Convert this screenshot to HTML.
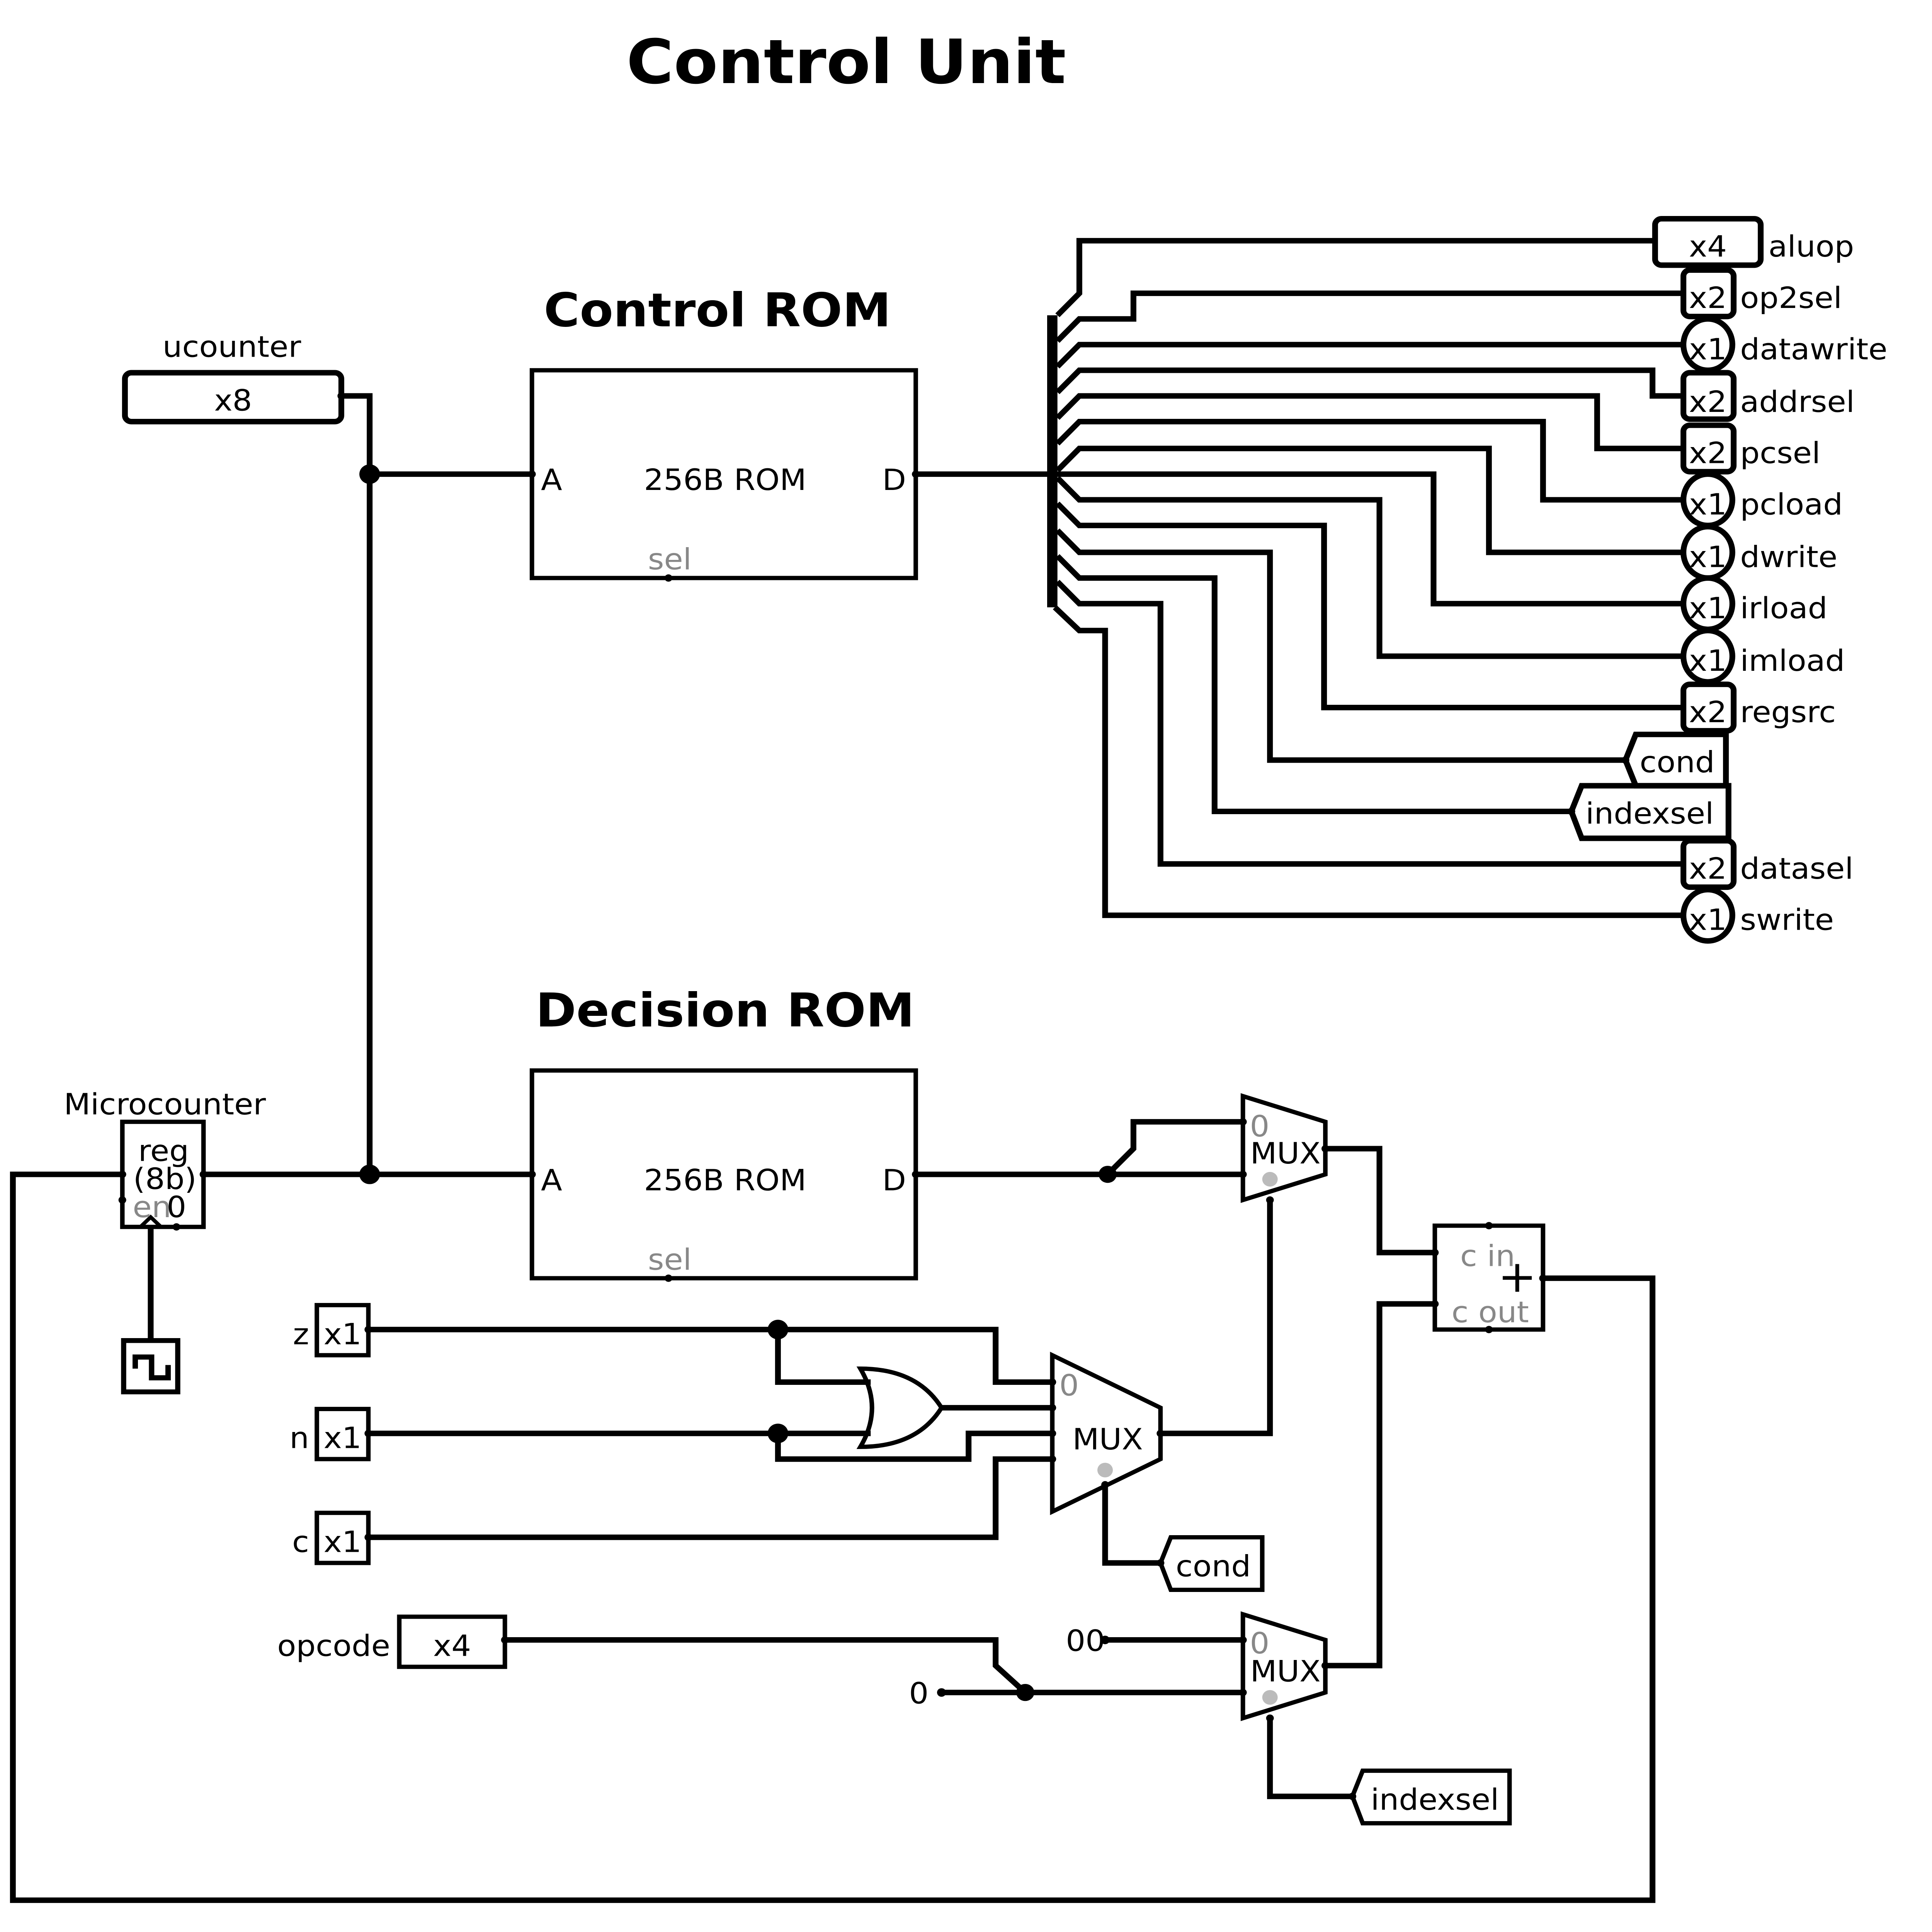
<!DOCTYPE html>
<html><head><meta charset="utf-8"><style>html,body{margin:0;padding:0;background:#fff;width:100%;height:100%;overflow:hidden}svg{display:block;position:fixed;left:0;top:0;width:100vw;height:100vh}</style></head><body>
<svg viewBox="0 0 1500 1581" preserveAspectRatio="none" xmlns="http://www.w3.org/2000/svg" font-family="DejaVu Sans, Liberation Sans, sans-serif">
<rect width="1500" height="1581" fill="#fff"/>
<g font-weight="bold" text-anchor="middle">
<text x="657" y="68" font-size="50">Control Unit</text>
<text x="557" y="267" font-size="38">Control ROM</text>
<text x="563" y="840" font-size="38">Decision ROM</text>
</g>
<g fill="none" stroke="#000" stroke-width="4.5" stroke-linejoin="miter">
<rect x="97" y="305" width="168" height="40" rx="5"/>
<polyline points="265,324 287,324 287,961"/>
<line x1="287" y1="388" x2="413" y2="388"/>
<rect x="413" y="303" width="298" height="170" stroke-width="3.5"/>
<line x1="711" y1="388" x2="817" y2="388"/>
<line x1="817" y1="258" x2="817" y2="497" stroke-width="8"/>
<polyline points="821,258 838,240 838,197 1285,197"/>
<polyline points="821,279 838,261 880,261 880,240 1307,240"/>
<polyline points="821,300 838,282 1307,282"/>
<polyline points="821,321 838,303 1283,303 1283,324 1307,324"/>
<polyline points="821,342 838,324 1240,324 1240,367 1307,367"/>
<polyline points="821,363 838,345 1198,345 1198,409 1307,409"/>
<polyline points="821,385 838,367 1156,367 1156,452 1307,452"/>
<polyline points="817,388 1113,388 1113,494 1307,494"/>
<polyline points="821,391 838,409 1071,409 1071,537 1307,537"/>
<polyline points="821,412 838,430 1028,430 1028,579 1307,579"/>
<polyline points="821,434 838,452 986,452 986,622 1262,622"/>
<polyline points="821,455 838,473 943,473 943,664 1220,664"/>
<polyline points="821,476 838,494 901,494 901,707 1307,707"/>
<polyline points="819,497 838,516 858,516 858,749 1307,749"/>
<rect x="1285" y="179" width="82" height="38" rx="5"/>
<rect x="1307" y="221" width="39" height="38" rx="5"/>
<ellipse cx="1326" cy="282" rx="19" ry="21"/>
<rect x="1307" y="305" width="39" height="38" rx="5"/>
<rect x="1307" y="348" width="39" height="38" rx="5"/>
<ellipse cx="1326" cy="409" rx="19" ry="21"/>
<ellipse cx="1326" cy="452" rx="19" ry="21"/>
<ellipse cx="1326" cy="494" rx="19" ry="21"/>
<ellipse cx="1326" cy="537" rx="19" ry="21"/>
<rect x="1307" y="560" width="39" height="38" rx="5"/>
<polygon points="1262,622 1270,601 1340,601 1340,643 1270,643"/>
<polygon points="1220,664 1228,643 1342,643 1342,686 1228,686"/>
<rect x="1307" y="688" width="39" height="38" rx="5"/>
<ellipse cx="1326" cy="749" rx="19" ry="21"/>
<rect x="413" y="876" width="298" height="170" stroke-width="3.5"/>
<rect x="95" y="918" width="63" height="86" stroke-width="3.5"/>
<polyline points="158,961 413,961"/>
<polyline points="95,961 10,961 10,1555 1283,1555 1283,1046 1198,1046"/>
<line x1="117" y1="1004" x2="117" y2="1097"/>
<polyline points="109,1004 117,996 125,1004" stroke-width="3"/>
<rect x="96" y="1097" width="42" height="42" stroke-width="4"/>
<polyline points="105,1120 105,1110.5 117.7,1110.5 117.7,1127.5 130.5,1127.5 130.5,1117" stroke-width="4.2"/>
<polyline points="711,961 965,961"/>
<polyline points="860,961 880,940 880,918 965,918"/>
<polygon points="965,897 1029,918 1029,961 965,982" stroke-width="3.5"/>
<polyline points="986,982 986,1173 901,1173"/>
<polyline points="1029,940 1071,940 1071,1025 1114,1025"/>
<rect x="1114" y="1003" width="84" height="85" stroke-width="3.5"/>
<polyline points="1029,1363 1071,1363 1071,1067 1114,1067"/>
<rect x="246" y="1068" width="40" height="41" stroke-width="3.5"/>
<rect x="246" y="1153" width="40" height="41" stroke-width="3.5"/>
<rect x="246" y="1238" width="40" height="41" stroke-width="3.5"/>
<polyline points="286,1088 773,1088 773,1131 817,1131"/>
<polyline points="604,1088 604,1131 676,1131"/>
<polyline points="286,1173 676,1173"/>
<polyline points="604,1173 604,1194 752,1194 752,1173 817,1173"/>
<polyline points="731,1152 817,1152"/>
<polyline points="286,1258 773,1258 773,1194 817,1194"/>
<path d="M668,1120 Q712,1120 731,1152 Q712,1184 668,1184 Q686,1152 668,1120 Z" stroke-width="3.5"/>
<polygon points="817,1109 901,1152 901,1194 817,1237" stroke-width="3.5"/>
<polyline points="858,1215 858,1279 901,1279"/>
<polygon points="901,1279 909,1258 980,1258 980,1301 909,1301" stroke-width="3.5"/>
<rect x="310" y="1323" width="82" height="41" stroke-width="3.5"/>
<polyline points="392,1342 773,1342 773,1363 796,1385"/>
<line x1="731" y1="1385" x2="965" y2="1385"/>
<line x1="858" y1="1342" x2="965" y2="1342"/>
<polygon points="965,1321 1029,1342 1029,1385 965,1406" stroke-width="3.5"/>
<polyline points="986,1406 986,1470 1050,1470"/>
<polygon points="1050,1470 1058,1449 1172,1449 1172,1492 1058,1492" stroke-width="3.5"/>
</g>
<g fill="#000">
<circle cx="287" cy="388" r="8"/><circle cx="287" cy="961" r="8"/>
<circle cx="860" cy="961" r="7"/><circle cx="604" cy="1088" r="8"/><circle cx="604" cy="1173" r="8"/>
<circle cx="796" cy="1385" r="7"/>
<circle cx="413" cy="388" r="3"/><circle cx="711" cy="388" r="3"/><circle cx="519" cy="473" r="3"/>
<circle cx="413" cy="961" r="3"/><circle cx="711" cy="961" r="3"/><circle cx="519" cy="1046" r="3"/>
<circle cx="265" cy="324" r="3"/><circle cx="95" cy="961" r="3"/><circle cx="158" cy="961" r="3"/><circle cx="95" cy="982" r="3"/><circle cx="137" cy="1004" r="3"/>
<circle cx="1156" cy="1003" r="3"/><circle cx="1156" cy="1088" r="3"/><circle cx="1114" cy="1025" r="3"/><circle cx="1114" cy="1067" r="3"/><circle cx="1198" cy="1046" r="3"/>
<circle cx="986" cy="982" r="3"/><circle cx="1029" cy="940" r="3"/><circle cx="965" cy="918" r="3"/><circle cx="965" cy="961" r="3"/>
<circle cx="817" cy="1131" r="3"/><circle cx="817" cy="1152" r="3"/><circle cx="817" cy="1173" r="3"/><circle cx="817" cy="1194" r="3"/><circle cx="901" cy="1173" r="3"/><circle cx="858" cy="1215" r="3"/>
<circle cx="286" cy="1088" r="3"/><circle cx="286" cy="1173" r="3"/><circle cx="286" cy="1258" r="3"/><circle cx="392" cy="1342" r="3"/>
<circle cx="731" cy="1385" r="3.5"/><circle cx="858" cy="1342" r="3.5"/>
<circle cx="965" cy="1342" r="3"/><circle cx="965" cy="1385" r="3"/><circle cx="1029" cy="1363" r="3"/><circle cx="986" cy="1406" r="3"/>
<circle cx="1050" cy="1470" r="3"/><circle cx="901" cy="1279" r="3"/><circle cx="1262" cy="622" r="3"/><circle cx="1220" cy="664" r="3"/>
</g>
<g fill="#bbb"><circle cx="986" cy="965" r="6"/><circle cx="858" cy="1203" r="6"/><circle cx="986" cy="1389" r="6"/></g>
<g font-size="24" fill="#000">
<text x="180" y="292" text-anchor="middle">ucounter</text>
<text x="181" y="336" text-anchor="middle">x8</text>
<text x="420" y="401">A</text><text x="563" y="401" text-anchor="middle">256B ROM</text><text x="685" y="401">D</text>
<text x="420" y="974">A</text><text x="563" y="974" text-anchor="middle">256B ROM</text><text x="685" y="974">D</text>
<text x="1326" y="210" text-anchor="middle">x4</text><text x="1373" y="210">aluop</text>
<text x="1326" y="252" text-anchor="middle">x2</text><text x="1351" y="252">op2sel</text>
<text x="1326" y="294" text-anchor="middle">x1</text><text x="1351" y="294">datawrite</text>
<text x="1326" y="337" text-anchor="middle">x2</text><text x="1351" y="337">addrsel</text>
<text x="1326" y="379" text-anchor="middle">x2</text><text x="1351" y="379">pcsel</text>
<text x="1326" y="421" text-anchor="middle">x1</text><text x="1351" y="421">pcload</text>
<text x="1326" y="464" text-anchor="middle">x1</text><text x="1351" y="464">dwrite</text>
<text x="1326" y="506" text-anchor="middle">x1</text><text x="1351" y="506">irload</text>
<text x="1326" y="549" text-anchor="middle">x1</text><text x="1351" y="549">imload</text>
<text x="1326" y="591" text-anchor="middle">x2</text><text x="1351" y="591">regsrc</text>
<text x="1273" y="632">cond</text>
<text x="1231" y="674">indexsel</text>
<text x="1326" y="719" text-anchor="middle">x2</text><text x="1351" y="719">datasel</text>
<text x="1326" y="761" text-anchor="middle">x1</text><text x="1351" y="761">swrite</text>
<text x="128" y="912" text-anchor="middle">Microcounter</text>
<text x="127" y="950" text-anchor="middle">reg</text>
<text x="128" y="973" text-anchor="middle">(8b)</text>
<text x="137" y="996" text-anchor="middle">0</text>
<text x="998" y="952" text-anchor="middle">MUX</text>
<text x="860" y="1186" text-anchor="middle">MUX</text>
<text x="998" y="1376" text-anchor="middle">MUX</text>
<text x="240" y="1100" text-anchor="end">z</text><text x="266" y="1100" text-anchor="middle">x1</text>
<text x="240" y="1185" text-anchor="end">n</text><text x="266" y="1185" text-anchor="middle">x1</text>
<text x="240" y="1270" text-anchor="end">c</text><text x="266" y="1270" text-anchor="middle">x1</text>
<text x="303" y="1355" text-anchor="end">opcode</text><text x="351" y="1355" text-anchor="middle">x4</text>
<text x="942" y="1290" text-anchor="middle">cond</text>
<text x="1114" y="1481" text-anchor="middle">indexsel</text>
<text x="721" y="1394" text-anchor="end">0</text>
<text x="858" y="1351" text-anchor="end">00</text>
<text x="1178" y="1057" text-anchor="middle" font-size="36">+</text>
</g>
<g font-size="24" fill="#888">
<text x="520" y="466" text-anchor="middle">sel</text>
<text x="520" y="1039" text-anchor="middle">sel</text>
<text x="118" y="996" text-anchor="middle">en</text>
<text x="978" y="930" text-anchor="middle">0</text>
<text x="830" y="1142" text-anchor="middle">0</text>
<text x="978" y="1353" text-anchor="middle">0</text>
<text x="1155" y="1036" text-anchor="middle">c in</text>
<text x="1157" y="1082" text-anchor="middle">c out</text>
</g>
</svg>
</body></html>
